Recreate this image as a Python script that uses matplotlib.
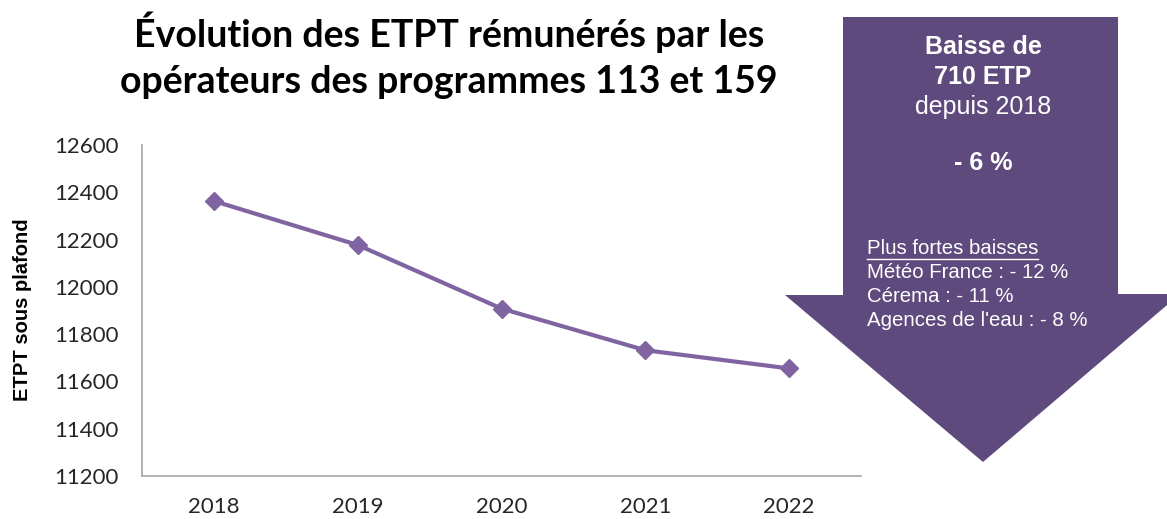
import numpy as np
import matplotlib.pyplot as plt
from matplotlib.patches import Polygon
from matplotlib.lines import Line2D

# data
years = ['2018', '2019', '2020', '2021', '2022']
etpt = [12363, 12177, 11908, 11732, 11655]
y_ticks = [11200, 11400, 11600, 11800, 12000, 12200, 12400, 12600]

title_lines = ["Évolution des ETPT rémunérés par les",
               "opérateurs des programmes 113 et 159"]
box_head = ["Baisse de", "710 ETP", "depuis 2018", "- 6 %"]
box_list_title = "Plus fortes baisses"
box_list = ["Météo France : - 12 %", "Cérema : - 11 %", "Agences de l'eau : - 8 %"]

W, H = 1167, 519
LINE_COLOR = '#8064A2'
ARROW_COLOR = '#5F4A7D'

fig = plt.figure(figsize=(W / 100, H / 100), dpi=100)


def fx(px):
    return px / W


def fy(py):
    return 1 - py / H


# arrow in the background (pixel coords, top origin)
arrow_pts = [(843, 17), (1118, 17), (1118, 294), (1180, 294),
             (983, 462), (785, 295), (843, 295)]
arrow = Polygon([(fx(x), fy(y)) for x, y in arrow_pts], closed=True,
                transform=fig.transFigure, facecolor=ARROW_COLOR,
                edgecolor='none', zorder=0)
fig.patches.append(arrow)

ax = fig.add_axes([fx(142), fy(476), fx(861) - fx(142), fy(145) - fy(476)])
ax.patch.set_alpha(0)
x = np.arange(len(years))
ax.plot(x, etpt, color=LINE_COLOR, linewidth=3, marker='D', markersize=9,
        markeredgecolor=LINE_COLOR, zorder=3)
ax.set_xlim(-0.5, len(years) - 0.5)
ax.set_ylim(y_ticks[0], y_ticks[-1])
ax.set_xticks(x)
ax.set_xticklabels(years)
ax.set_yticks(y_ticks)
for side in ['top', 'right']:
    ax.spines[side].set_visible(False)
for side in ['left', 'bottom']:
    ax.spines[side].set_color('#A6A6A6')
    ax.spines[side].set_linewidth(1.2)
ax.tick_params(axis='both', length=0, labelsize=16, labelcolor='#262626')
ax.tick_params(axis='y', pad=17)
ax.tick_params(axis='x', pad=15)
for lab in ax.get_xticklabels() + ax.get_yticklabels():
    lab.set_fontfamily('Lato')

fig.text(fx(23), fy(310), 'ETPT sous plafond', rotation=90, ha='center',
         va='center', fontsize=14.5, fontweight='bold',
         fontfamily='Liberation Sans', color='black')

for line, base in zip(title_lines, [47, 93]):
    fig.text(fx(449), fy(base), line, ha='center', va='baseline',
             fontsize=27, fontweight='bold', fontfamily='Lato',
             color='black')

# text inside the arrow
head_y = [47, 77, 107, 163]
head_bold = [True, True, False, True]
for txt, yy, b in zip(box_head, head_y, head_bold):
    fig.text(fx(983), fy(yy), txt, ha='center', va='center', fontsize=18,
             fontweight='bold' if b else 'normal',
             fontfamily='Liberation Sans', color='white')

t = fig.text(fx(867), fy(248), box_list_title, ha='left', va='center',
             fontsize=14.7, fontfamily='Liberation Sans', color='white')
for txt, yy in zip(box_list, [273, 297, 321]):
    fig.text(fx(867), fy(yy), txt, ha='left', va='center', fontsize=14.7,
             fontfamily='Liberation Sans', color='white')

# underline the list title
fig.canvas.draw()
bb = t.get_window_extent()
fig.lines.append(Line2D([bb.x0 / W, bb.x1 / W], [(bb.y0 - 1) / H] * 2,
                        transform=fig.transFigure, color='white',
                        linewidth=1))

fig.savefig('out.png', dpi=100)
